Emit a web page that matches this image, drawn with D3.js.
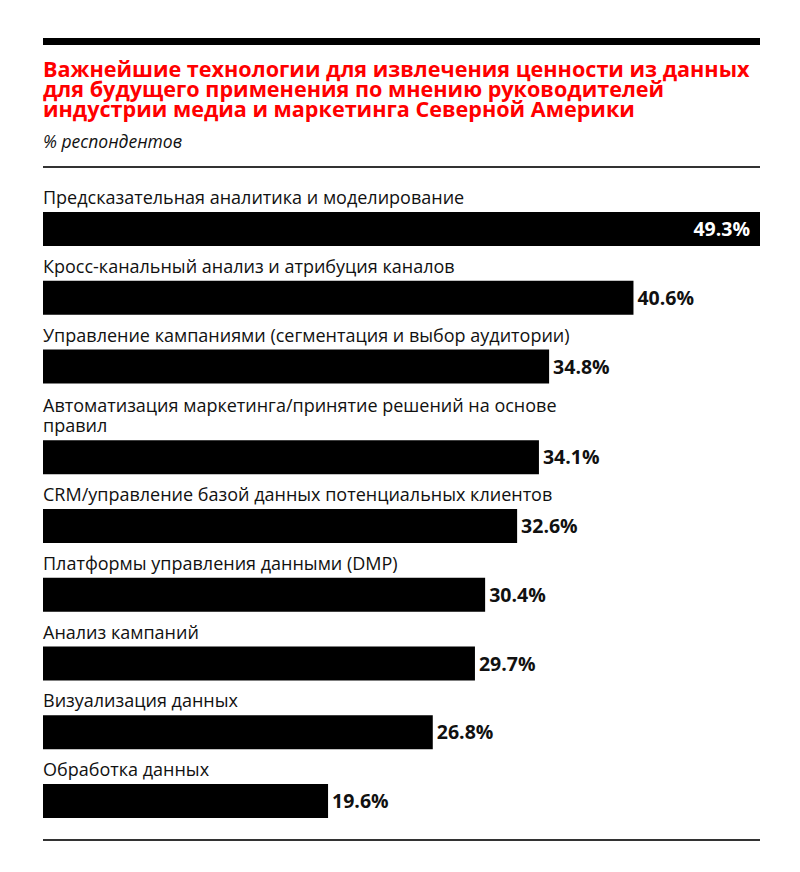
<!DOCTYPE html>
<html><head><meta charset="utf-8">
<script src="https://cdn.jsdelivr.net/npm/d3@7"></script>
<style>body{margin:0;background:#fff}</style>
</head><body><svg id="c" width="800" height="872"></svg>
<script>
const categories = [
  "Предсказательная аналитика и моделирование",
  "Кросс-канальный анализ и атрибуция каналов",
  "Управление кампаниями (сегментация и выбор аудитории)",
  "Автоматизация маркетинга/принятие решений на основе\nправил",
  "CRM/управление базой данных потенциальных клиентов",
  "Платформы управления данными (DMP)",
  "Анализ кампаний",
  "Визуализация данных",
  "Обработка данных"
];
const values = [49.3, 40.6, 34.8, 34.1, 32.6, 30.4, 29.7, 26.8, 19.6];
const titleLines = [
  "Важнейшие технологии для извлечения ценности из данных",
  "для будущего применения по мнению руководителей",
  "индустрии медиа и маркетинга Северной Америки"
];
const subtitle = "% респондентов";

const svg = d3.select("#c");
const L = 43, R = 760;
const font = "'Open Sans', 'Noto Sans', sans-serif";

svg.append("rect").attr("x", L).attr("y", 38).attr("width", R - L).attr("height", 7).attr("fill", "#000");

const t = svg.append("text").attr("font-family", font).attr("font-weight", 700)
  .attr("font-size", 21.6).attr("fill", "#ff0000");
titleLines.forEach((s, i) => t.append("tspan").attr("x", L).attr("y", 77 + i * 20).text(s));

svg.append("text").attr("x", L).attr("y", 148).attr("font-family", font)
  .attr("font-style", "italic").attr("font-size", 17.5).attr("fill", "#111").text(subtitle);

svg.append("rect").attr("x", L).attr("y", 166).attr("width", R - L).attr("height", 2).attr("fill", "#333");

const x = d3.scaleLinear().domain([0, d3.max(values)]).range([L, R]);

// vertical layout
const barH = 34, step = 68.75, extraLine = 22;
let tops = [], acc = 212;
categories.forEach((c, i) => {
  const lines = c.split("\n").length;
  if (i > 0) acc += step + (lines - 1) * extraLine;
  tops.push(acc);
});

const g = svg.append("g");
categories.forEach((c, i) => {
  const lines = c.split("\n");
  const top = tops[i];
  const lt = g.append("text").attr("font-family", font).attr("font-size", 18).attr("fill", "#111");
  lines.forEach((s, j) => lt.append("tspan").attr("x", L)
    .attr("y", top - 8 - (lines.length - 1 - j) * 20).text(s));
  g.append("rect").attr("x", x(0)).attr("y", top).attr("width", x(values[i]) - x(0))
    .attr("height", barH).attr("fill", "#000");
  const inside = i === 0;
  g.append("text").attr("font-family", font).attr("font-weight", 700).attr("font-size", 19.5)
    .attr("x", inside ? x(values[i]) - 10 : x(values[i]) + 4)
    .attr("y", top + barH / 2 + 7)
    .attr("text-anchor", inside ? "end" : "start")
    .attr("fill", inside ? "#fff" : "#111")
    .text(values[i].toFixed(1) + "%");
});

svg.append("rect").attr("x", L).attr("y", 839).attr("width", R - L).attr("height", 2).attr("fill", "#333");
</script></body></html>
